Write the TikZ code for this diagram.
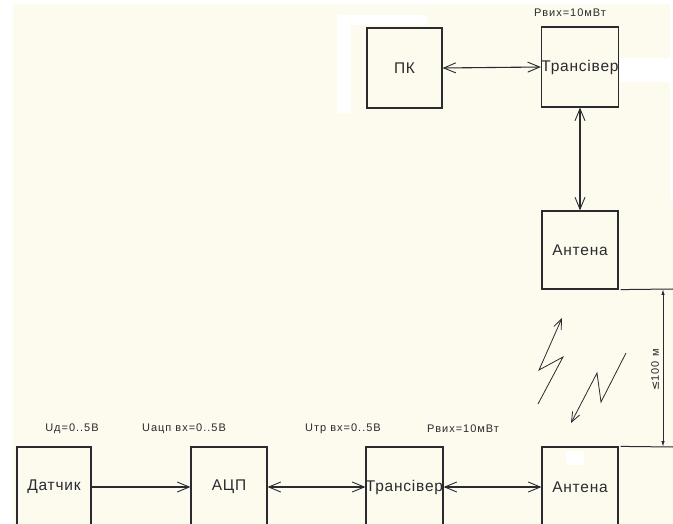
\documentclass[tikz,border=0pt]{standalone}
\usepackage{fontspec}
\setmainfont{Liberation Sans}
\newfontfamily\boxfont[LetterSpace=5]{Liberation Sans}
\newfontfamily\lblfont[LetterSpace=9]{Liberation Sans}
\newfontfamily\dejavu{DejaVu Sans}
\usetikzlibrary{arrows.meta}
\definecolor{cream}{RGB}{253,250,238}
\definecolor{ink}{RGB}{42,42,48}
\tikzset{
  blk/.style={draw=ink, line width=1.2pt, rectangle, inner sep=0pt,
    font=\boxfont\fontsize{15.5}{18}\selectfont, text=ink},
  lbl/.style={inner sep=0pt, font=\lblfont\fontsize{11}{13}\selectfont, text=ink},
  conn/.style={draw=ink, line width=1.1pt},
  mybarb/.tip={Straight Barb[length=12pt,width=10pt,line width=0.9pt]},
  mysmallbarb/.tip={Straight Barb[length=10pt,width=8pt,line width=0.8pt]},
  mydim/.tip={Latex[length=6pt,width=3.5pt]},
  bolt/.style={draw=ink, line width=0.8pt, -mysmallbarb},
}
\begin{document}
\begin{tikzpicture}[x=1pt,y=-1pt]
\useasboundingbox (0,0) rectangle (673,524);
\clip (0,0) rectangle (673,524);
% background
\fill[white] (0,0) rectangle (673,524);
\fill[cream] (13,4) rectangle (673,524);
\fill[white] (337,15) rectangle (351,113);
\fill[white] (337,15) rectangle (427,25);
\fill[white] (620,58) rectangle (673,82);
\fill[white] (670,0) rectangle (673,200);
\fill[white] (566,451) rectangle (584,465);

% top row
\node[blk, minimum width=75pt, minimum height=80pt] (pk) at (404.5,68) {ПК};
\node[blk, minimum width=76pt, minimum height=80pt] (trtop) at (580,67) {Трансівер};
\node[blk, minimum width=76pt, minimum height=78pt] (anttop) at (580,250) {Антена};
\node[lbl] (ptop) at (570,13) {Рвих=10мВт};

% bottom row
\node[blk, minimum width=74pt, minimum height=80pt] (dat) at (54,487) {Датчик};
\node[blk, minimum width=76pt, minimum height=80pt] (adc) at (229,487) {АЦП};
\node[blk, minimum width=75pt, minimum height=80pt] (trb) at (404.5,487) {Трансівер};
\node[blk, minimum width=76pt, minimum height=80pt] (antb) at (580,487) {Антена};

\node[lbl] (l1) at (72,429) {Uд=0..5В};
\node[lbl] (l2) at (184,429) {Uацп вх=0..5В};
\node[lbl] (l3) at (343,429) {Uтр вх=0..5В};
\node[lbl] (l4) at (463,429) {Рвих=10мВт};

% connectors
\draw[conn, mybarb-mybarb] (pk.east) -- (trtop.west);
\draw[conn, mybarb-mybarb] (trtop.south) -- (anttop.north);
\draw[conn, -mybarb] (dat.east) -- (adc.west);
\draw[conn, mybarb-mybarb] (adc.east) -- (trb.west);
\draw[conn, mybarb-mybarb] (trb.east) -- (antb.west);

% dimension
\coordinate (e1) at (673,289);
\coordinate (e2) at (673,447);
\coordinate (d1) at (663,289);
\coordinate (d2) at (663,447);
\draw[conn, line width=1pt] ([xshift=2pt]anttop.south east) -- (e1);
\draw[conn, line width=1pt] ([xshift=2pt]antb.north east) -- (e2);
\draw[conn, line width=1pt, mydim-mydim] (d1) -- (d2);
\node[lbl, rotate=90] (dist) at (655,370) {{\dejavu ≤}100 м};

% lightning bolts
\draw[bolt] (538,404) -- (563,357) -- (539,370) -- (562,318);
\draw[bolt] (626,353) -- (601,402) -- (597,373) -- (571,423);
\end{tikzpicture}
\end{document}
